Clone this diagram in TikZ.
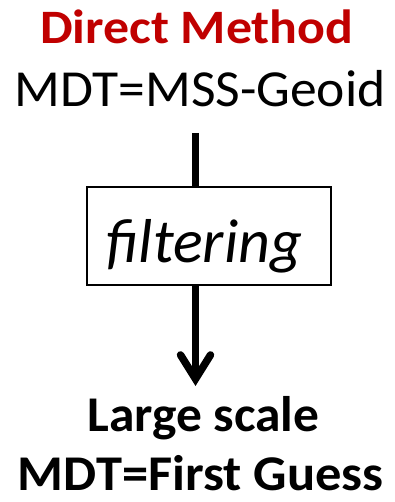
\documentclass[tikz,border=0pt]{standalone}
\usepackage{fontspec}
\setmainfont{Carlito}
\usetikzlibrary{arrows.meta}
\definecolor{titlered}{HTML}{C00000}
\tikzset{
  txt/.style={inner sep=0pt, anchor=base},
  title/.style={txt, text=titlered, font=\bfseries\fontsize{48}{52}\selectfont},
  formula/.style={txt, font=\fontsize{52}{56}\selectfont},
  result/.style={txt, font=\bfseries\fontsize{50}{54}\selectfont},
  stepbox/.style={draw, line width=2pt, minimum width=244pt, minimum height=98pt},
  steptext/.style={txt, font=\itshape\fontsize{62}{66}\selectfont},
  flow/.style={line width=7.5pt},
}
\begin{document}
\begin{tikzpicture}[x=1pt,y=-1pt]
\useasboundingbox (0,0) rectangle (395,502);
\node[title] (dm) at (196.7,43.3) {\scalebox{1.08}[1]{Direct Method}};
\node[formula] (mdt) at (200,106.7) {\scalebox{1.03}[1]{MDT=MSS-Geoid}};
\coordinate (start) at (195.5,133);
\node[stepbox] (filt) at (209,236) {};
\node[steptext] (ftxt) at (204,262) {filtering};
\node[result] (ls) at (203.3,431) {\scalebox{1.03}[1]{Large scale}};
\node[result] (fg) at (200.8,490) {\scalebox{1.05}[1]{MDT=First Guess}};
\coordinate (tip) at (195.5,386);
\draw[flow] (start) -- (start |- filt.north);
\draw[flow, -{Straight Barb[length=24pt,width=30pt,line cap=round]}] (start |- filt.south) -- (tip);
\end{tikzpicture}
\end{document}
